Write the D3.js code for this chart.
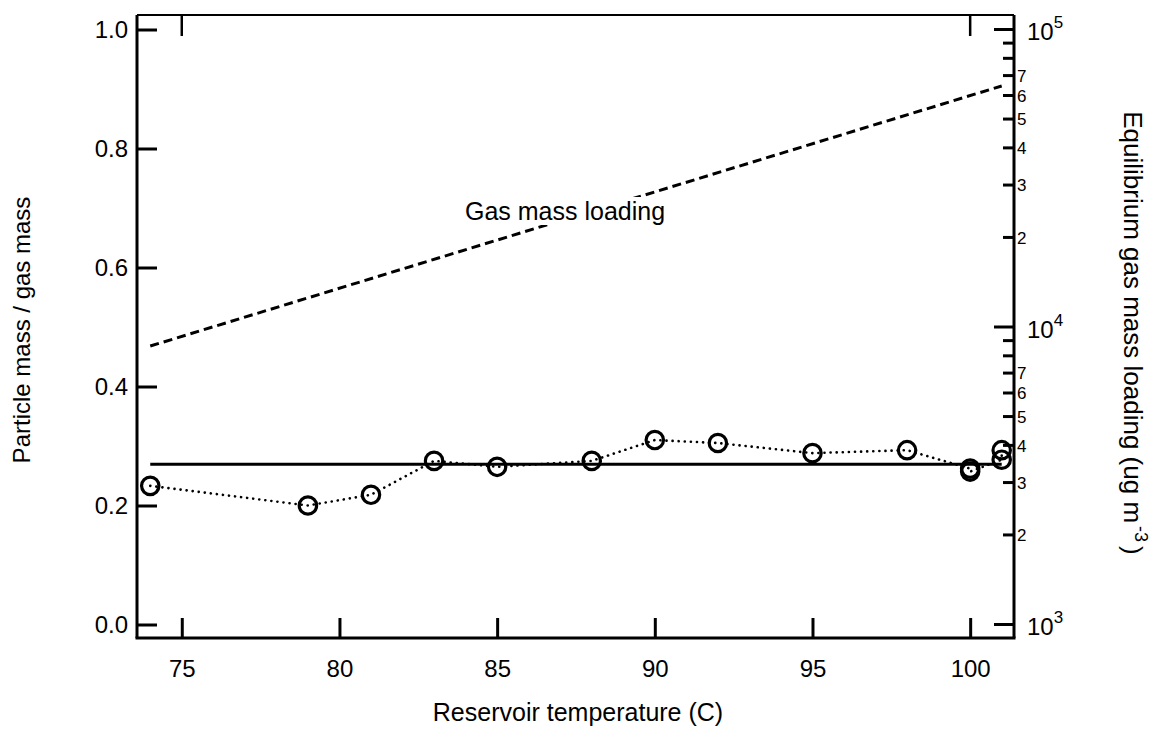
<!DOCTYPE html>
<html>
<head>
<meta charset="utf-8">
<script src="https://d3js.org/d3.v7.min.js"></script>
<style>
body{margin:0;background:#fff;}
svg{display:block;font-family:"Liberation Sans",Arial,sans-serif;}
</style>
</head>
<body>
<script>
// particle / gas mass ratio
const temps = [74, 79, 81, 83, 85, 88, 90, 92, 95, 98, 100, 100, 101, 101];
const ratio = [0.233, 0.200, 0.218, 0.275, 0.265, 0.275, 0.310, 0.305, 0.288, 0.293, 0.262, 0.257, 0.277, 0.293];

// mean of the ratio (solid line)
const meanT = [74, 101];
const meanRatio = [0.2695, 0.2695];

// gas mass loading on the log axis (dashed line)
const gasT = [74, 101];
const gasLoading = [8630, 64600];

const xTicks = [75, 80, 85, 90, 95, 100];
const xTopTicks = [75, 100];
const yTicks = [0.0, 0.2, 0.4, 0.6, 0.8, 1.0];
const y2Major = [1e3, 1e4, 1e5];
const y2Exp = ["3", "4", "5"];
const y2MinorLabelled = [2, 3, 4, 5, 6, 7];

const W = 1158, H = 733;
const pLeft = 137, pRight = 1014, pTop = 15, pBottom = 638;

const svg = d3.select('body').append('svg')
    .attr('width', W)
    .attr('height', H);

const x = d3.scaleLinear().domain([73.58, 101.39]).range([pLeft, pRight]);
const y = d3.scaleLinear().domain([0, 1]).range([624.5, 29.5]);
const y2 = d3.scaleLog().domain([1e3, 1e5]).range([624.5, 29.5]);

// frame top line
svg.append('line')
    .attr('x1', pLeft).attr('x2', pRight)
    .attr('y1', pTop).attr('y2', pTop)
    .attr('stroke', '#000').attr('stroke-width', 2);

// top ticks
svg.selectAll('.ttick')
    .data(xTopTicks)
    .enter()
  .append('line')
    .attr('x1', d=>x(d)).attr('x2', d=>x(d))
    .attr('y1', pTop).attr('y2', pTop+21)
    .attr('stroke', '#000').attr('stroke-width', 2.5);

// bottom axis
const xAxis = svg.append('g')
    .attr('transform', `translate(0,${pBottom})`)
    .call(d3.axisBottom(x).tickValues(xTicks).tickSize(-20).tickPadding(22).tickSizeOuter(0).tickFormat(d3.format('d')));

// left axis
const yAxis = svg.append('g')
    .attr('transform', `translate(${pLeft},0)`)
    .call(d3.axisLeft(y).tickValues(yTicks).tickSize(-20).tickPadding(9).tickSizeOuter(0).tickFormat(d3.format('.1f')));

[xAxis, yAxis].forEach(g=>{
  g.select('.domain').attr('stroke-width', 3);
  g.selectAll('.tick line').attr('stroke-width', 3);
  g.selectAll('.tick text').attr('font-size', 24).attr('fill', '#000');
});
// extend axis lines to the corners
xAxis.select('.domain').attr('d', `M${pLeft-1.5},0H${pRight+1.5}`);
yAxis.select('.domain').attr('d', `M0,${pTop}V${pBottom}`);

// right log axis
const r = svg.append('g').attr('transform', `translate(${pRight},0)`);
r.append('line')
    .attr('y1', pTop).attr('y2', pBottom)
    .attr('stroke', '#000').attr('stroke-width', 3);

const mant = d=>Math.round(d/Math.pow(10, Math.floor(Math.log10(d)+1e-9)));
const minor = y2.ticks().filter(d=>!y2Major.includes(d));
r.selectAll('.minor')
    .data(minor)
    .enter()
  .append('line')
    .attr('x1', -11).attr('x2', 0)
    .attr('y1', d=>y2(d)).attr('y2', d=>y2(d))
    .attr('stroke', '#000').attr('stroke-width', 3);

r.selectAll('.minorLabel')
    .data(minor.filter(d=>y2MinorLabelled.includes(mant(d))))
    .enter()
  .append('text')
    .attr('x', 3)
    .attr('y', d=>y2(d))
    .attr('dy', '0.36em')
    .attr('font-size', 17)
    .text(d=>mant(d));

r.selectAll('.major')
    .data(y2Major)
    .enter()
  .append('line')
    .attr('x1', -20).attr('x2', 0)
    .attr('y1', d=>y2(d)).attr('y2', d=>y2(d))
    .attr('stroke', '#000').attr('stroke-width', 3);

const majLab = r.selectAll('.majorLabel')
    .data(y2Major)
    .enter()
  .append('text')
    .attr('x', 13)
    .attr('y', d=>y2(d))
    .attr('dy', '0.45em')
    .attr('font-size', 24);
majLab.append('tspan').text('10');
majLab.append('tspan').attr('dy', -12).attr('font-size', 17).text((d,i)=>y2Exp[i]);

// mean line
svg.append('path')
    .datum(meanT.map((t,i)=>[t, meanRatio[i]]))
    .attr('d', d3.line().x(d=>x(d[0])).y(d=>y(d[1])))
    .attr('fill', 'none').attr('stroke', '#000').attr('stroke-width', 3);

// gas loading dashed line
svg.append('path')
    .datum(gasT.map((t,i)=>[t, gasLoading[i]]))
    .attr('d', d3.line().x(d=>x(d[0])).y(d=>y2(d[1])))
    .attr('fill', 'none').attr('stroke', '#000').attr('stroke-width', 3)
    .attr('stroke-dasharray', '9,5');

// dotted ratio line
const pts = temps.map((t,i)=>[t, ratio[i]]);
svg.append('path')
    .datum(pts)
    .attr('d', d3.line().x(d=>x(d[0])).y(d=>y(d[1])))
    .attr('fill', 'none').attr('stroke', '#000').attr('stroke-width', 2.6)
    .attr('stroke-linecap', 'round')
    .attr('stroke-dasharray', '0.1,6');

svg.selectAll('circle')
    .data(pts)
    .enter()
  .append('circle')
    .attr('cx', d=>x(d[0]))
    .attr('cy', d=>y(d[1]))
    .attr('r', 8.7)
    .attr('fill', 'none')
    .attr('stroke', '#000')
    .attr('stroke-width', 3.2);

// annotation with white box
const ann = svg.append('g').attr('transform', 'translate(565,220)');
const annText = ann.append('text')
    .attr('text-anchor', 'middle')
    .attr('font-size', 25)
    .text('Gas mass loading');
const bb = annText.node().getBBox();
ann.insert('rect', 'text')
    .attr('x', bb.x-2).attr('y', bb.y)
    .attr('width', bb.width+4).attr('height', bb.height)
    .attr('fill', '#fff');

// axis titles
svg.append('text')
    .attr('x', 578).attr('y', 721)
    .attr('text-anchor', 'middle')
    .attr('font-size', 25)
    .text('Reservoir temperature (C)');

svg.append('text')
    .attr('transform', 'translate(22,330) rotate(-90)')
    .attr('text-anchor', 'middle')
    .attr('dy', '0.35em')
    .attr('font-size', 24)
    .text('Particle mass / gas mass');

const rt = svg.append('text')
    .attr('transform', 'translate(1133,333) rotate(90)')
    .attr('text-anchor', 'middle')
    .attr('dy', '0.35em')
    .attr('font-size', 26);
rt.append('tspan').text('Equilibrium gas mass loading (ug m');
rt.append('tspan').attr('dy', -11).attr('dx', 3).attr('font-size', 18).text('-3');
rt.append('tspan').attr('dy', 11).attr('dx', 4).text(')');
</script>
</body>
</html>
